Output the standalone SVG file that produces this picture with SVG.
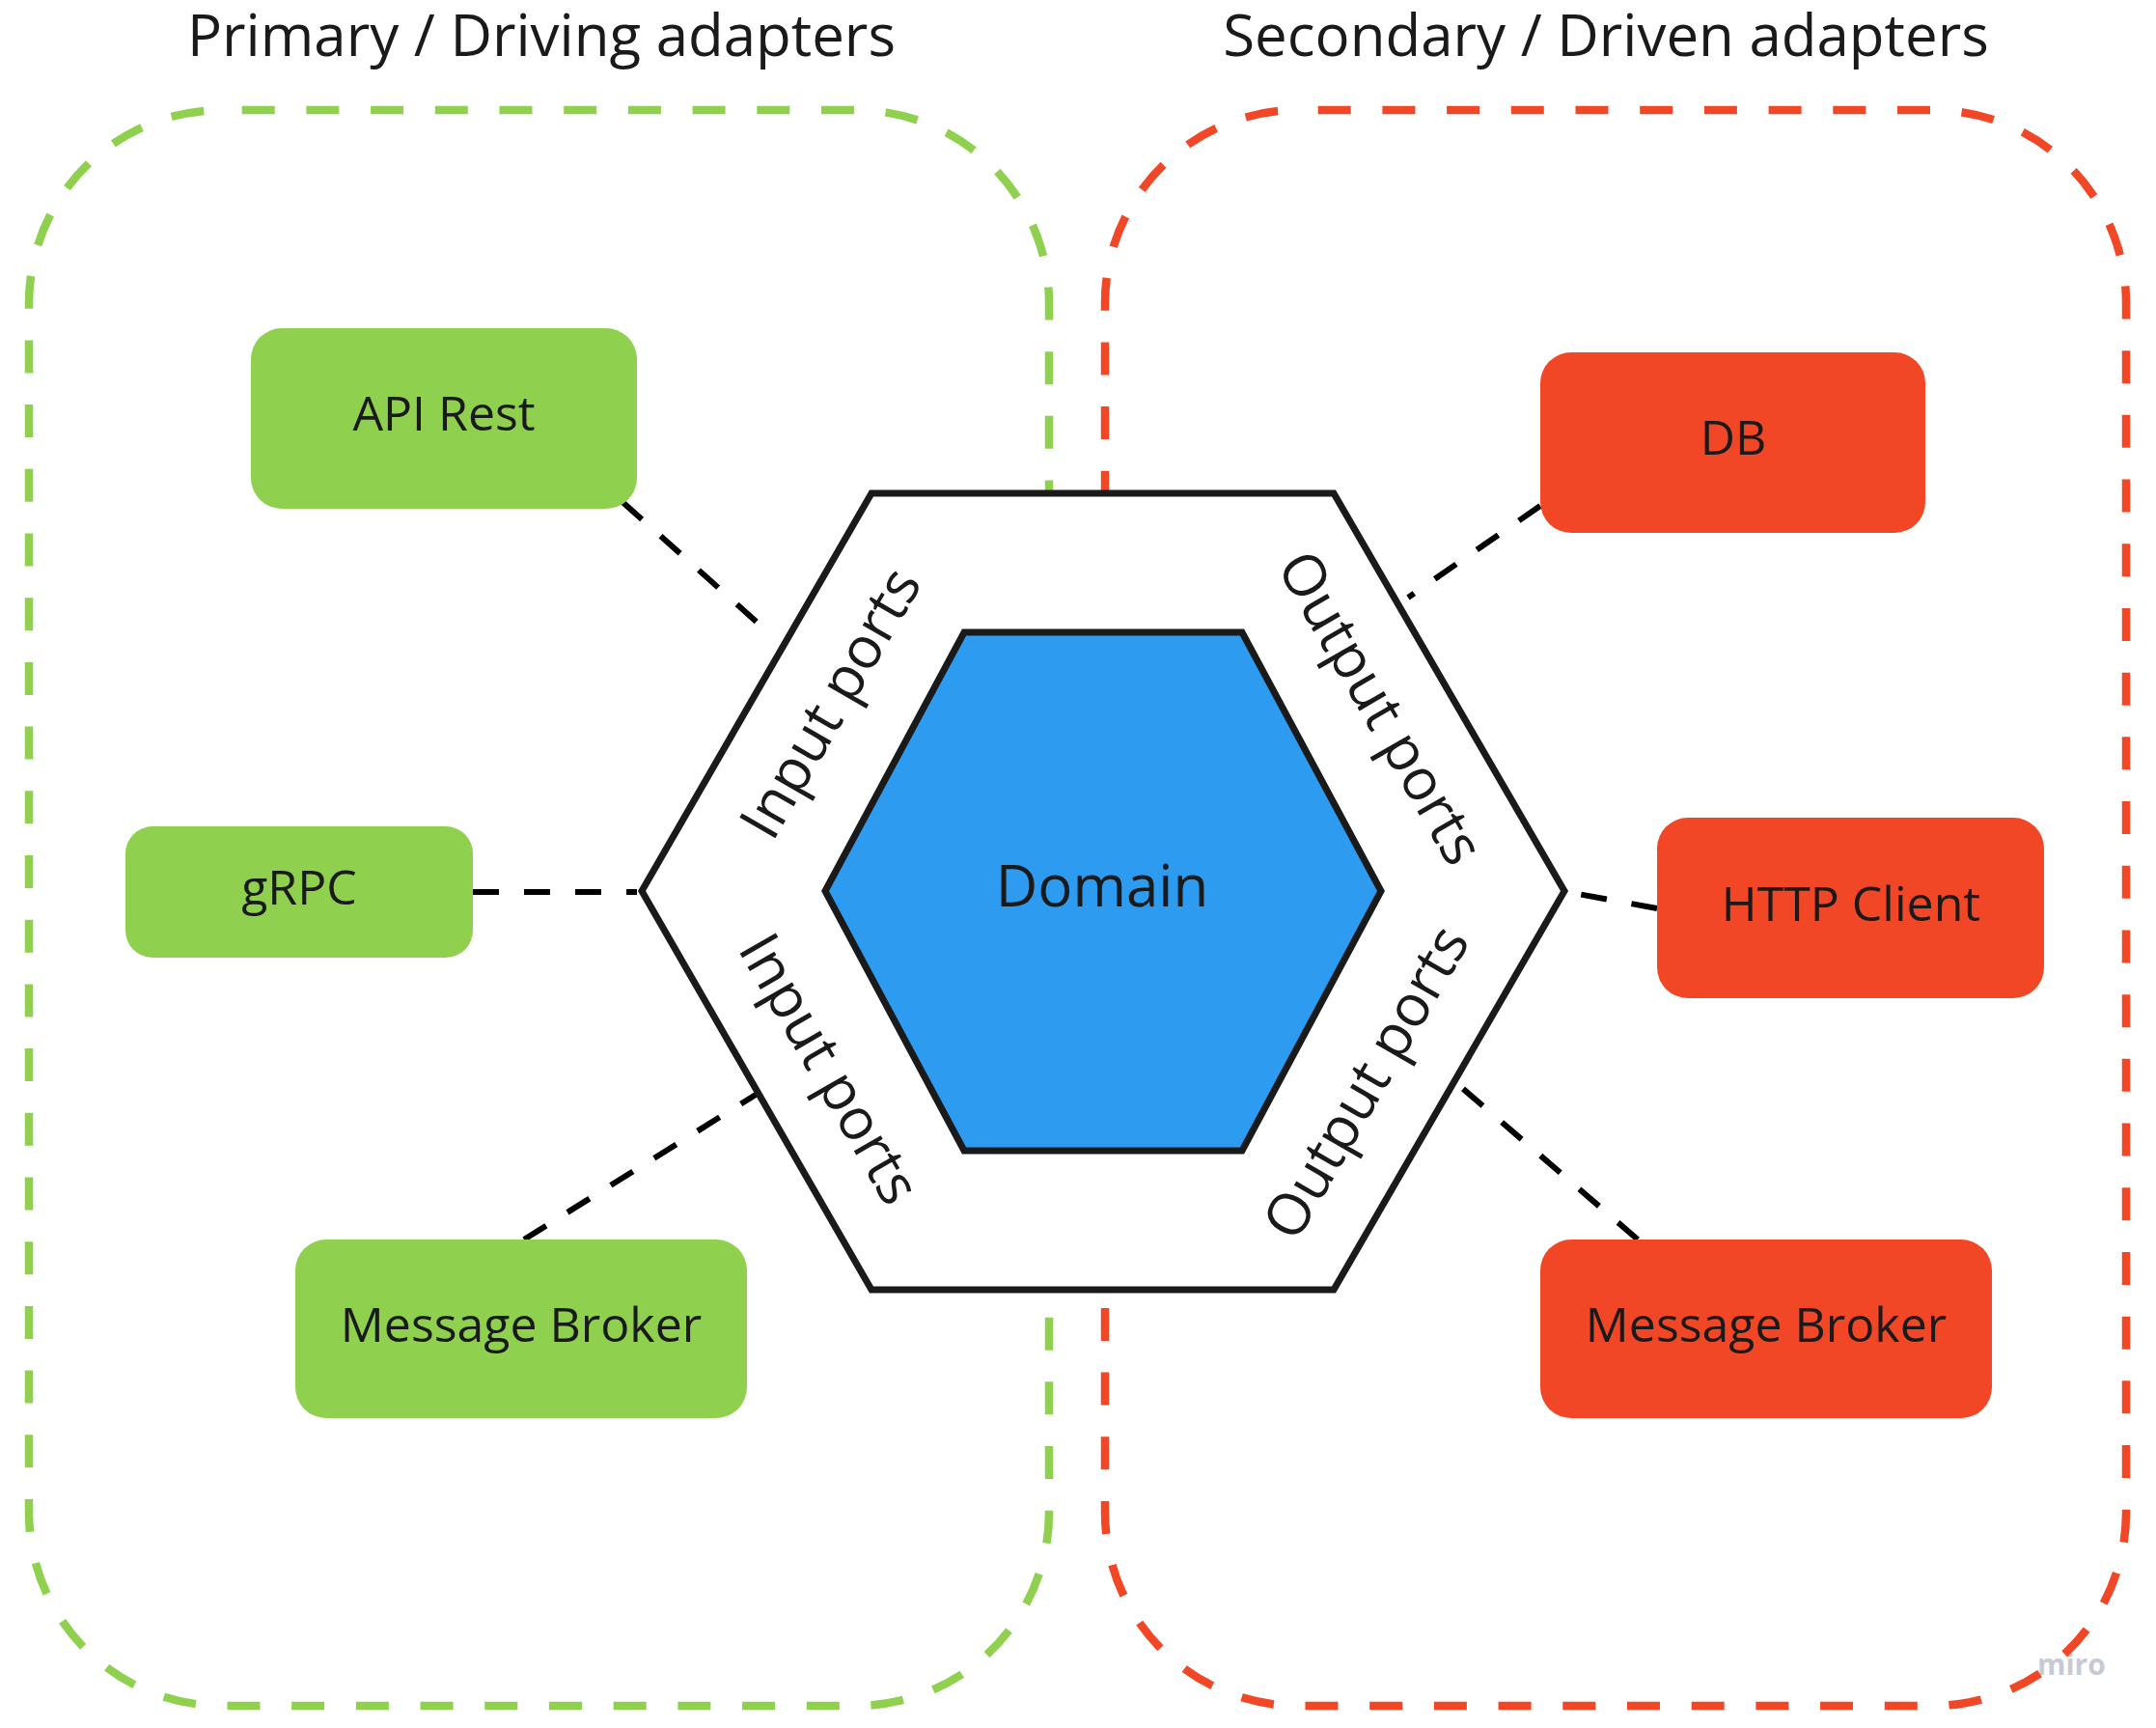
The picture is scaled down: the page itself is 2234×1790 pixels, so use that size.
<svg xmlns="http://www.w3.org/2000/svg" width="2234" height="1790" viewBox="0 0 2234 1790">
<style>
  text { font-family: "Open Sans", "Noto Sans", "Liberation Sans", sans-serif; fill: #1a1a1a; }
  .title { font-size: 60px; text-anchor: middle; }
  .node-label { font-size: 50px; text-anchor: middle; }
  .port { font-size: 60px; text-anchor: middle; }
  .green { fill: #8FD14F; }
  .red { fill: #F24726; }
  .zone { fill: none; stroke-width: 8.5; stroke-dasharray: 34 32.7; }
  .conn { fill: none; stroke: #000000; stroke-width: 6; stroke-dasharray: 27 26; }
  .hex { stroke: #1a1a1a; stroke-width: 7; stroke-linejoin: miter; }
</style>
<rect x="0" y="0" width="2234" height="1790" fill="#ffffff"/>
<text x="2111" y="1735" style="font-size:30px;font-weight:bold;fill:#c9c9d6;" text-anchor="start">miro</text>

<g id="primary-zone">
  <rect class="zone" x="30" y="114" width="1057" height="1653" rx="200" ry="200" stroke="#8FD14F" stroke-dashoffset="46"/>
  <text class="title" x="561" y="58">Primary / Driving adapters</text>
</g>
<g id="secondary-zone">
  <rect class="zone" x="1145" y="114" width="1058" height="1653" rx="200" ry="200" stroke="#F24726" stroke-dashoffset="46"/>
  <text class="title" x="1664" y="58">Secondary / Driven adapters</text>
</g>

<g id="connectors">
  <line class="conn" x1="645" y1="520" x2="786" y2="646"/>
  <line class="conn" x1="490" y1="924" x2="660" y2="924"/>
  <line class="conn" x1="543" y1="1284" x2="783" y2="1134"/>
  <line class="conn" x1="1596" y1="524" x2="1459" y2="619"/>
  <line class="conn" x1="1717" y1="941" x2="1624" y2="924"/>
  <line class="conn" x1="1697" y1="1284" x2="1515" y2="1127"/>
</g>

<g id="ports-hexagon">
  <polygon class="hex" points="665,923 903,511 1382,511 1621,923 1382,1336 903,1336" fill="#ffffff"/>
  <text class="port" transform="translate(862,729) rotate(-60)" x="0" y="19">Input ports</text>
  <text class="port" transform="translate(858,1108) rotate(60)" x="0" y="19">Input ports</text>
  <text class="port" transform="translate(1429,734) rotate(60)" x="0" y="19">Output ports</text>
  <text class="port" transform="translate(1417,1122) rotate(-60)" x="0" y="19">Output ports</text>
</g>

<g id="domain">
  <polygon class="hex" points="855,923 999,655 1287,655 1431,923 1287,1192 999,1192" fill="#2D9BF0"/>
  <text x="1142" y="939" style="font-size:60px;" text-anchor="middle">Domain</text>
</g>

<g id="api-rest">
  <rect class="green" x="260" y="340" width="400" height="187" rx="32"/>
  <text class="node-label" x="460" y="446">API Rest</text>
</g>
<g id="grpc">
  <rect class="green" x="130" y="856" width="360" height="136" rx="28"/>
  <text class="node-label" x="310" y="937">gRPC</text>
</g>
<g id="message-broker-in">
  <rect class="green" x="306" y="1284" width="468" height="185" rx="32"/>
  <text class="node-label" x="540" y="1390">Message Broker</text>
</g>
<g id="db">
  <rect class="red" x="1596" y="365" width="399" height="187" rx="32"/>
  <text class="node-label" x="1796" y="471">DB</text>
</g>
<g id="http-client">
  <rect class="red" x="1717" y="847" width="401" height="187" rx="32"/>
  <text class="node-label" x="1918" y="954">HTTP Client</text>
</g>
<g id="message-broker-out">
  <rect class="red" x="1596" y="1284" width="468" height="185" rx="32"/>
  <text class="node-label" x="1830" y="1390">Message Broker</text>
</g>
</svg>
